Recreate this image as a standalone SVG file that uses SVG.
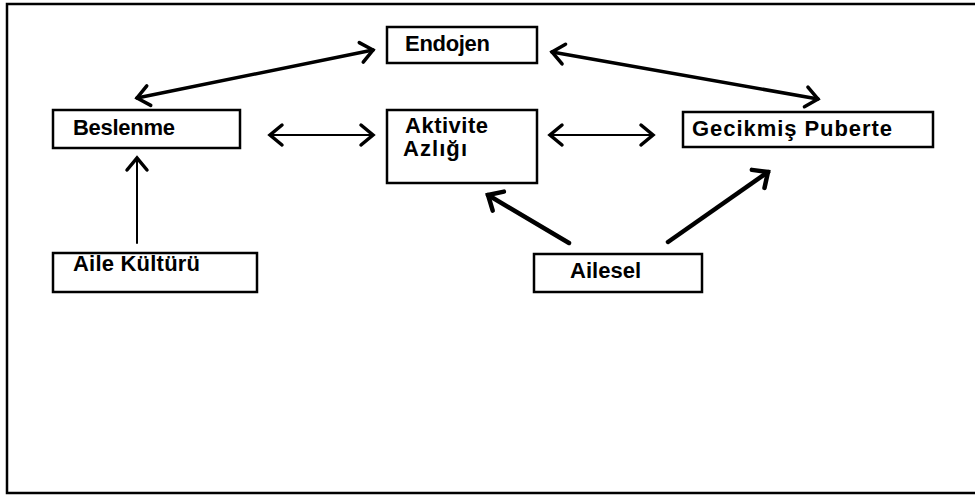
<svg xmlns="http://www.w3.org/2000/svg" width="975" height="499" viewBox="0 0 975 499">
<style>
.box{fill:#fff;stroke:#000;stroke-width:2.5}
.lbl{font-family:"Liberation Sans",Arial,sans-serif;font-weight:bold;font-size:22px;fill:#000}
.ln{stroke:#000;fill:none;stroke-linecap:round}
</style>
<defs>
<marker id="chev" markerUnits="userSpaceOnUse" viewBox="-18 -14 22 28" refX="0" refY="0" markerWidth="22" markerHeight="28" orient="auto-start-reverse">
<path d="M-12,-10 L0,0 L-12,10" fill="none" stroke="#000" stroke-width="3.5" stroke-linecap="round" stroke-linejoin="miter"/>
</marker>
<marker id="chevb" markerUnits="userSpaceOnUse" viewBox="-18 -14 22 28" refX="0" refY="0" markerWidth="22" markerHeight="28" orient="auto-start-reverse">
<path d="M-12,-11 L0,0 L-12,11" fill="none" stroke="#000" stroke-width="4.5" stroke-linecap="round" stroke-linejoin="miter"/>
</marker>
</defs>
<rect width="975" height="499" fill="#fff"/>
<g id="frame" stroke="#000" stroke-width="2.5" fill="none">
<path d="M975,4 L7,4 L7,493 L975,493"/>
</g>
<g id="connectors">
<line class="ln" x1="137" y1="98" x2="373" y2="50" stroke-width="3.5" marker-start="url(#chev)" marker-end="url(#chev)"/>
<line class="ln" x1="552" y1="52" x2="818" y2="99" stroke-width="3.5" marker-start="url(#chev)" marker-end="url(#chev)"/>
<line class="ln" x1="270" y1="135" x2="373" y2="135" stroke-width="2" marker-start="url(#chev)" marker-end="url(#chev)"/>
<line class="ln" x1="550" y1="135" x2="653" y2="135" stroke-width="2" marker-start="url(#chev)" marker-end="url(#chev)"/>
<line class="ln" x1="137" y1="243" x2="137" y2="158" stroke-width="2" marker-end="url(#chev)"/>
<line class="ln" x1="569" y1="243" x2="488" y2="195" stroke-width="4.5" marker-end="url(#chevb)"/>
<line class="ln" x1="668" y1="242" x2="768" y2="172" stroke-width="4.5" marker-end="url(#chevb)"/>
</g>
<g id="endojen">
<rect class="box" x="387" y="27" width="150" height="36"/>
<text class="lbl" x="405" y="51" textLength="85">Endojen</text>
</g>
<g id="beslenme">
<rect class="box" x="53" y="110" width="187" height="38"/>
<text class="lbl" x="73" y="135" textLength="102">Beslenme</text>
</g>
<g id="aktivite">
<rect class="box" x="387" y="110" width="150" height="73"/>
<text class="lbl" x="405" y="133" textLength="83">Aktivite</text>
<text class="lbl" x="403" y="156" textLength="64">Azlığı</text>
</g>
<g id="gecikmis">
<rect class="box" x="683" y="112" width="250" height="35"/>
<text class="lbl" x="692" y="136" textLength="200">Gecikmiş Puberte</text>
</g>
<g id="aile-kulturu">
<rect class="box" x="53" y="253" width="204" height="39"/>
<text class="lbl" x="73" y="271" textLength="127">Aile Kültürü</text>
</g>
<g id="ailesel">
<rect class="box" x="534" y="254" width="168" height="38"/>
<text class="lbl" x="570" y="278" textLength="71">Ailesel</text>
</g>
</svg>
